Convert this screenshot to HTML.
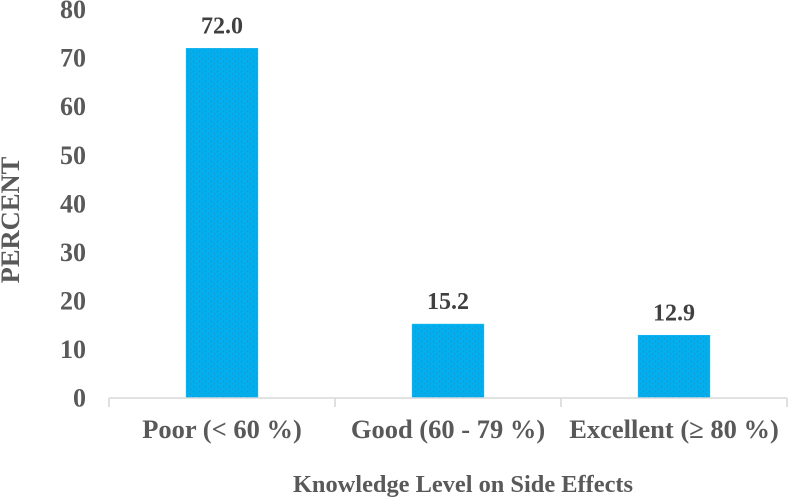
<!DOCTYPE html>
<html lang="en">
<head>
<meta charset="utf-8">
<title>Knowledge Level on Side Effects</title>
<style>
html,body{margin:0;padding:0;background:#fff;width:788px;height:498px;overflow:hidden}
svg{display:block}
text{font-family:"Liberation Serif",serif;font-weight:bold}
</style>
</head>
<body>
<svg id="chart" width="788" height="498" viewBox="0 0 788 498" xmlns="http://www.w3.org/2000/svg">
<defs>
<pattern id="bar-texture" width="6" height="5" patternUnits="userSpaceOnUse">
<rect width="6" height="5" fill="#02aeee"></rect>
<circle cx="1.5" cy="1.5" r="0.7" fill="#3a7f9f" opacity="0.6"></circle>
<circle cx="4.5" cy="3.8" r="0.7" fill="#3a7f9f" opacity="0.5"></circle>
</pattern>
</defs>
<g id="y-ticks"></g>
<g id="bars"></g>
<g id="x-axis"></g>
<text transform="translate(19,220) rotate(-90)" text-anchor="middle" font-size="26.5" fill="#595959">PERCENT</text>
<text x="463" y="492" text-anchor="middle" font-size="24.4" fill="#595959">Knowledge Level on Side Effects</text>
</svg>
<script>
const categories = ["Poor (< 60 %)", "Good (60 - 79 %)", "Excellent (≥ 80 %)"];
const percentValues = [72.0, 15.2, 12.9];
const valueLabels = ["72.0", "15.2", "12.9"];
const yTickLabels = [0, 10, 20, 30, 40, 50, 60, 70, 80];

const NS = "http://www.w3.org/2000/svg";
const plotLeft = 109, plotRight = 787, plotBottom = 398, plotTop = 9.6;
const yMax = 80, barWidth = 71.5;

function yScale(v) { return plotBottom - (v / yMax) * (plotBottom - plotTop); }
function bandWidth() { return (plotRight - plotLeft) / categories.length; }
function xCenter(i) { return plotLeft + bandWidth() * (i + 0.5); }
function make(tag, attrs, parent, content) {
  const el = document.createElementNS(NS, tag);
  for (const k in attrs) el.setAttribute(k, attrs[k]);
  if (content !== undefined) el.textContent = content;
  parent.appendChild(el);
  return el;
}

const yTicksGroup = document.getElementById("y-ticks");
yTickLabels.forEach(function (t) {
  const el = make("text", { x: 86, y: yScale(t) + 8.5, "text-anchor": "end", "font-size": 26, fill: "#595959" }, yTicksGroup, String(t));
  
  
});

const barsGroup = document.getElementById("bars");
percentValues.forEach(function (v, i) {
  const top = yScale(v);
  const bar = make("rect", { x: xCenter(i) - barWidth / 2, y: top, width: barWidth, height: plotBottom - top, fill: "url(#bar-texture)", stroke: "#12b5f2", "stroke-width": 0.8 }, barsGroup);
  
  
  const label = make("text", { x: xCenter(i), y: top - 15, "text-anchor": "middle", "font-size": 24, fill: "#404040" }, barsGroup, valueLabels[i]);
  
  
});

const xAxisGroup = document.getElementById("x-axis");
const axisLine = make("line", { x1: plotLeft, x2: plotRight, y1: plotBottom, y2: plotBottom, stroke: "#d9d9d9", "stroke-width": 1.6 }, xAxisGroup);


for (let i = 0; i <= categories.length; i++) {
  const x = plotLeft + bandWidth() * i;
  const tick = make("line", { x1: x, x2: x, y1: plotBottom, y2: plotBottom + 9, stroke: "#d9d9d9", "stroke-width": 1.6 }, xAxisGroup);
  
  
}
categories.forEach(function (c, i) {
  const label = make("text", { x: xCenter(i), y: 438, "text-anchor": "middle", "font-size": 26.5, fill: "#595959" }, xAxisGroup, c);
  
  
});
</script>
</body>
</html>
